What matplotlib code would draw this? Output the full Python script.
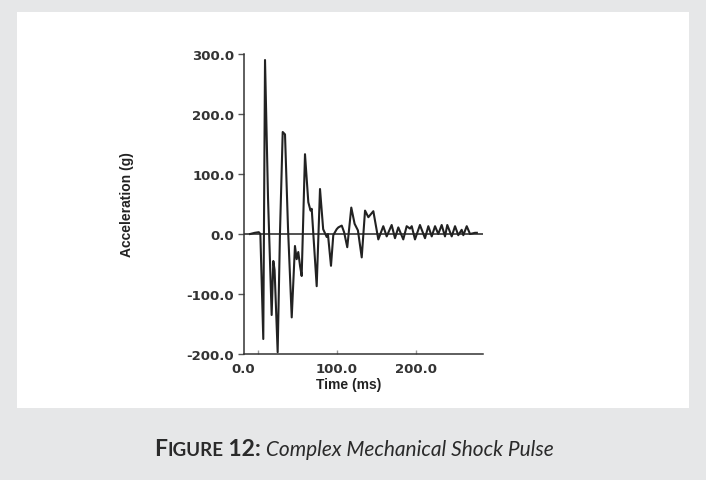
import matplotlib
matplotlib.use("Agg")
import matplotlib.pyplot as plt
from matplotlib.patches import Rectangle
from matplotlib.transforms import ScaledTranslation

# shock pulse: time (ms), acceleration (g)
time_ms = [-10, -4, 1, 3, 6.7, 8.9, 12.7, 17.3, 19.4, 21, 24.9, 27.8, 31.3, 34.2, 38,
           42.7, 46.8, 49, 51, 53.2, 55.3, 59.5, 63.7, 66.5, 68, 74.3, 78.5, 82.5,
           87, 88.5, 92.4, 95.3, 99.6, 101.7, 106, 109, 113, 118.1, 122.3, 126.5,
           131.3, 135.5, 139.7, 146, 152.3, 158.6, 162.9, 169.2, 173.4, 177.6, 183.9,
           188.2, 192.4, 194.6, 198.7, 205, 211.4, 215.6, 219.9, 224.1, 228.2, 232.5,
           236.7, 239.6, 245.2, 249.4, 253.5, 257.8, 259.9, 264.2, 268.4, 274.7, 277]
accel_g = [0, 2, 3, 0, -175, 290, 60, -135, -45, -60, -197, 0, 170, 166, 10,
           -139, -20, -42, -30, -53, -70, 133, 53, 39, 42, -87, 75, 8,
           -5, 0, -53, -2, 8, 11, 14, 3, -22, 44, 17, 6,
           -39, 39, 28, 38, -9, 13, -4, 15, -7, 11, -9,
           13, 9, 13, -9, 15, -7, 13, -4, 13, 0, 15,
           -4, 15, -4, 13, -2, 7, -2, 13, 0, 2, 2]

x_ticks = [0, 100, 200]
y_ticks = [-200, -100, 0, 100, 200, 300]

fig = plt.figure(figsize=(7.06, 4.81), dpi=100, facecolor="#e6e7e8")
panel = Rectangle((17 / 706, 1 - 409 / 481), 672 / 706, 396 / 481,
                  transform=fig.transFigure, facecolor="white",
                  edgecolor="none", zorder=-5)
fig.add_artist(panel)

ax = fig.add_axes([244 / 706, 126 / 481, 239 / 706, 300 / 481])
ax.set_zorder(2)
ax.patch.set_alpha(0)
ax.plot(time_ms, accel_g, color="#222222", lw=1.5, solid_joinstyle="round")
ax.axhline(0, color="#222222", lw=1.1)
ax.set_xlim(-17.7, 284.8)
ax.set_ylim(-200, 300)

for s in ["top", "right"]:
    ax.spines[s].set_visible(False)
for s in ["left", "bottom"]:
    ax.spines[s].set_color("#333333")
    ax.spines[s].set_linewidth(1.1)

tick_font = dict(family="DejaVu Sans", weight="bold", size=9.5)
ax.set_xticks(x_ticks)
ax.set_xticklabels([f"{v:.1f}" for v in x_ticks], color="#333333", **tick_font)
ax.set_yticks(y_ticks)
ax.set_yticklabels([f"{v:.1f}" for v in y_ticks], color="#333333", **tick_font)
ax.tick_params(axis="y", direction="out", length=4, width=1, color="#555555", pad=3)
ax.tick_params(axis="x", direction="in", length=3, width=1, color="#999999", pad=6)
# the 0.0 label sits left of its tick in the original
lbl = ax.get_xticklabels()[0]
lbl.set_transform(lbl.get_transform() + ScaledTranslation(-15 / 100, 0, fig.dpi_scale_trans))

label_font = dict(family="Liberation Sans", weight="bold", size=10, color="#222222")
fig.text(127 / 706, 1 - 205 / 481, "Acceleration (g)", rotation=90,
         ha="center", va="center", **label_font)
fig.text(349 / 706, 1 - 385 / 481, "Time (ms)", ha="center", va="center", **label_font)

# caption with small caps
renderer = fig.canvas.get_renderer()
pieces = [("F", dict(weight="bold", size=16.5)),
          ("IGURE", dict(weight="bold", size=13.5)),
          (" 12:", dict(weight="bold", size=16.5)),
          (" Complex Mechanical Shock Pulse", dict(style="italic", size=15))]
texts = []
for s, kw in pieces:
    t = fig.text(0, 0, s, family="Lato", color="#2a2a2a", va="baseline", **kw)
    texts.append(t)
widths = [t.get_window_extent(renderer).width for t in texts]
x = 354 - sum(widths) / 2
base = 1 - 456 / 481
for t, w in zip(texts, widths):
    t.set_position((x / 706, base))
    x += w

fig.savefig("out.png", dpi=100, facecolor=fig.get_facecolor())
